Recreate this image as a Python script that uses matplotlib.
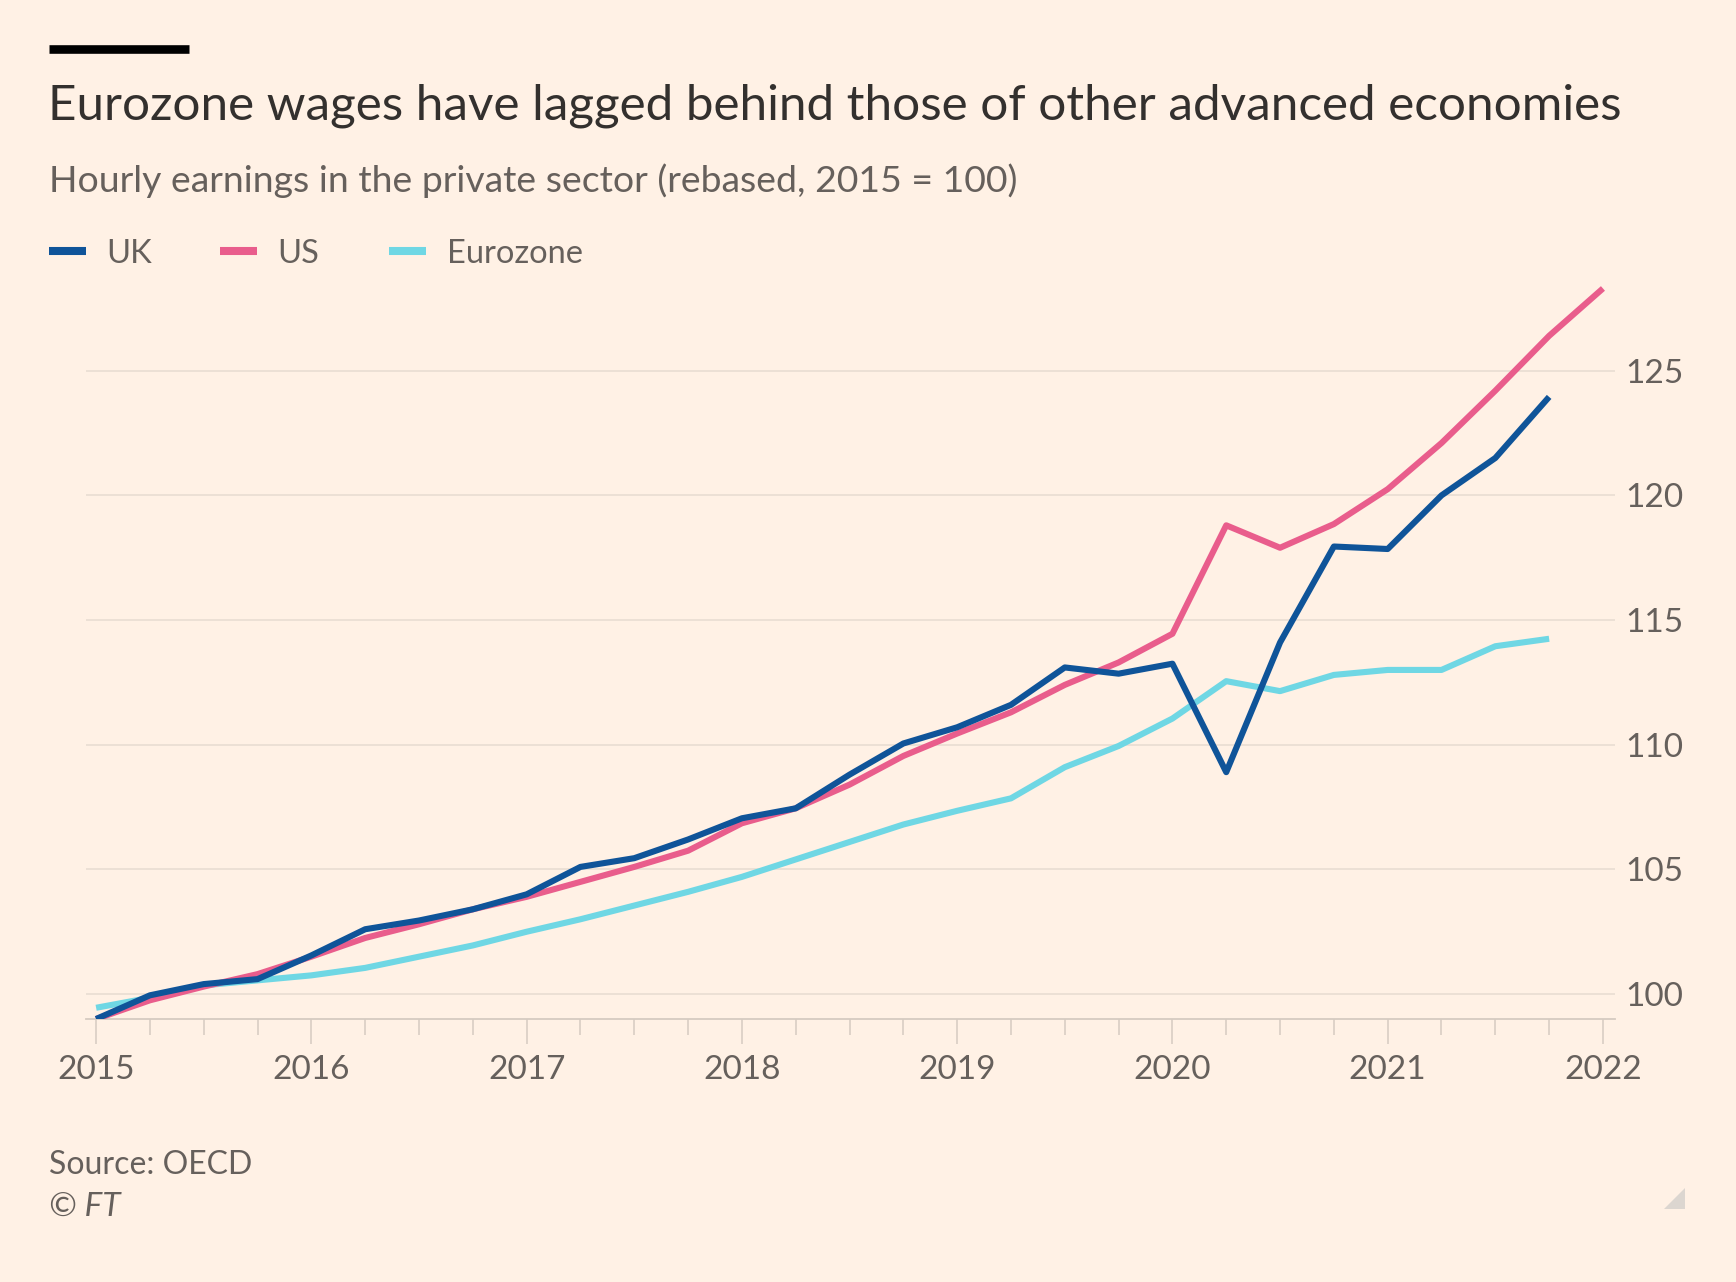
import numpy as np
import pandas as pd
import matplotlib
matplotlib.use("Agg")
import matplotlib.pyplot as plt
from matplotlib.lines import Line2D
from matplotlib.patches import Polygon

#dados (trimestral, 2015 = 100)
quarters = pd.period_range("2015Q1", "2022Q1", freq="Q")

uk = [99.0, 99.95, 100.4, 100.6, 101.55, 102.6, 102.95, 103.4,
      104.0, 105.1, 105.45, 106.2, 107.05, 107.45, 108.8, 110.05,
      110.7, 111.6, 113.1, 112.85, 113.25, 108.9, 114.1, 117.95,
      117.85, 120.0, 121.5, 123.95]
us = [99.0, 99.75, 100.3, 100.8, 101.5, 102.25, 102.8, 103.4,
      103.9, 104.5, 105.1, 105.75, 106.85, 107.45, 108.4, 109.55,
      110.45, 111.3, 112.4, 113.3, 114.45, 118.8, 117.9, 118.85,
      120.25, 122.1, 124.2, 126.4, 128.3]
eurozone = [99.45, 99.85, 100.35, 100.55, 100.75, 101.05, 101.5, 101.95,
            102.5, 103.0, 103.55, 104.1, 104.7, 105.4, 106.1, 106.8,
            107.35, 107.85, 109.1, 109.95, 111.05, 112.55, 112.15, 112.8,
            113.0, 113.0, 113.95, 114.25]

year_ticks = [2015, 2016, 2017, 2018, 2019, 2020, 2021, 2022]
y_ticks = [100, 105, 110, 115, 120, 125]

series_names = ["UK", "US", "Eurozone"]

#cores estilo FT
BG = "#fff1e5"
COLORS = {"UK": "#0f5499", "US": "#e95d8c", "Eurozone": "#6fd7e4"}
TXT_DARK = "#33302e"
TXT_GREY = "#66605c"
GRID = "#ebdfd4"
AXIS = "#d6cbc1"

plt.rcParams["font.family"] = ["Lato", "DejaVu Sans"]

W, H = 1736, 1282
fig = plt.figure(figsize=(W / 100, H / 100), dpi=100, facecolor=BG)

# px -> fracao da figura
def fx(px):
    return px / W

def fy(py):
    return 1 - py / H

ax = fig.add_axes([fx(86), fy(1019), fx(1615) - fx(86), fy(271) - fy(1019)])
ax.set_facecolor(BG)

x = quarters.year + (quarters.quarter - 1) / 4
data = {"UK": uk, "US": us, "Eurozone": eurozone}
zorders = {"UK": 5, "US": 4, "Eurozone": 3}
for name in series_names:
    vals = data[name]
    ax.plot(x[:len(vals)], vals, color=COLORS[name], lw=4.4,
            solid_joinstyle="round", solid_capstyle="butt", zorder=zorders[name])

ax.set_xlim(2014.953, 2022.056)
ax.set_ylim(99.0, 129.0)

ax.set_xticks(year_ticks)
ax.set_xticklabels([str(y) for y in year_ticks])
ax.set_xticks(x, minor=True)
ax.tick_params(axis="x", which="major", length=18, width=1.1, color=AXIS,
               labelsize=24, labelcolor=TXT_GREY, pad=8)
ax.tick_params(axis="x", which="minor", length=11.5, width=1.1, color=AXIS)

ax.yaxis.tick_right()
ax.set_yticks(y_ticks)
ax.tick_params(axis="y", length=0, labelsize=24, labelcolor=TXT_GREY, pad=7.5)
ax.grid(axis="y", color=GRID, lw=1.3, zorder=0)

for s in ["top", "left", "right"]:
    ax.spines[s].set_visible(False)
ax.spines["bottom"].set_color(AXIS)
ax.spines["bottom"].set_linewidth(1.3)

#cabecalho
fig.add_artist(Line2D([fx(49), fx(189)], [fy(49), fy(49)], color="black", lw=6.2,
                      solid_capstyle="butt"))
fig.text(fx(48), fy(119), "Eurozone wages have lagged behind those of other advanced economies",
         fontsize=35.6, color=TXT_DARK, va="baseline", ha="left")
fig.text(fx(49), fy(192), "Hourly earnings in the private sector (rebased, 2015 = 100)",
         fontsize=26.9, color=TXT_GREY, va="baseline", ha="left")

#legenda manual
leg_pos = {"UK": (49, 106), "US": (220, 277), "Eurozone": (389, 447)}
for name in series_names:
    x0, xt = leg_pos[name]
    fig.add_artist(Line2D([fx(x0), fx(x0 + 37)], [fy(251), fy(251)], color=COLORS[name],
                          lw=5.8, solid_capstyle="butt"))
    fig.text(fx(xt), fy(263), name, fontsize=23.5, color=TXT_GREY, va="baseline", ha="left")

#rodape
fig.text(fx(49), fy(1174), "Source: OECD", fontsize=23, color=TXT_GREY, va="baseline")
fig.text(fx(49), fy(1216), "\u00a9 FT", fontsize=24, color=TXT_GREY, va="baseline",
         style="italic")

fig.add_artist(Polygon([[fx(1685), fy(1188)], [fx(1664), fy(1209)], [fx(1685), fy(1209)]],
                       closed=True, transform=fig.transFigure, color="#dcd6d0", lw=0))

fig.savefig("out.png", dpi=100, facecolor=BG)
